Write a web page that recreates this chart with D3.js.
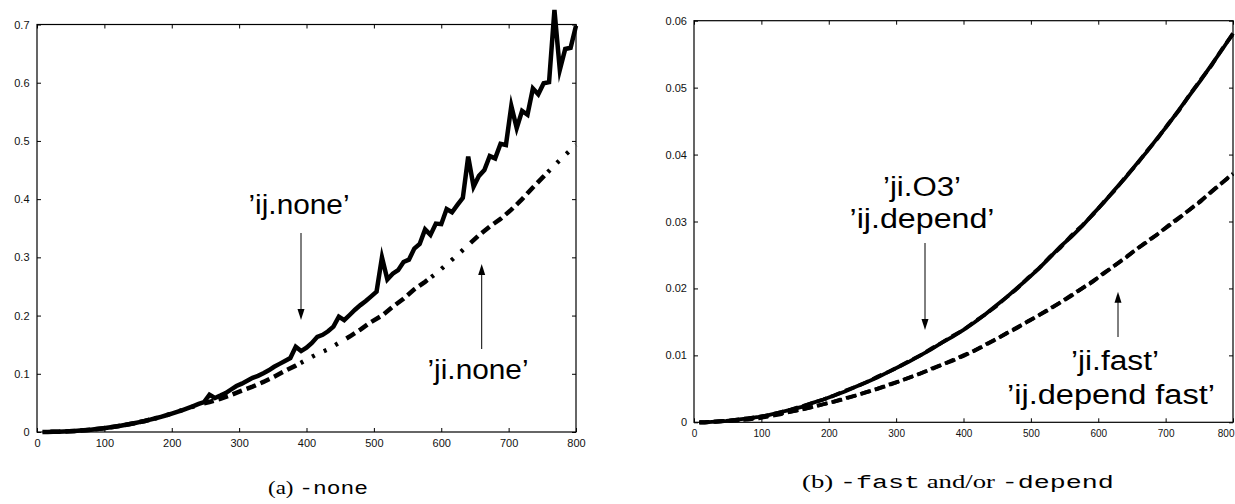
<!DOCTYPE html>
<html>
<head>
<meta charset="utf-8">
<script src="https://cdn.jsdelivr.net/npm/d3@7"></script>
<style>
body { margin: 0; background: #fff; }
svg { display: block; }
</style>
</head>
<body>
<div id="chart"></div>
<script>

// matrix sizes (x) for the fine and coarse series
const sizesFine = [8,16,24,32,40,48,56,64,72,80,88,96,104,112,120,128,136,144,152,160,
  168,176,184,192,200,208,216,224,232,240,248,256,264,272,280,288,296,304,312,320,
  328,336,344,352,360,368,376,384,392,400,408,416,424,432,440,448,456,464,472,480,
  488,496,504,512,520,528,536,544,552,560,568,576,584,592,600,608,616,624,632,640,
  648,656,664,672,680,688,696,704,712,720,728,736,744,752,760,768,776,784,792,800]
const sizesCoarse = [8,16,32,48,64,80,96,112,128,144,160,176,192,208,224,240,256,272,288,304,
  320,336,352,368,384,400,416,432,448,464,480,496,512,528,544,560,576,592,608,624,
  640,656,672,688,704,720,736,752,768,784,800]

// (a) -none
const ijNone = [0.0001,0.0002,0.0004,0.0006,0.0009,0.0013,0.0018,0.0024,0.0031,0.0040,
  0.0050,0.0061,0.0073,0.0086,0.0100,0.0115,0.0132,0.0150,0.0169,0.0190,
  0.0212,0.0236,0.0261,0.0288,0.0316,0.0346,0.0377,0.0410,0.0445,0.0482,
  0.0515,0.0640,0.0585,0.0625,0.0668,0.0730,0.0790,0.0830,0.0880,0.0930,
  0.0965,0.1010,0.1060,0.1120,0.1170,0.1220,0.1270,0.1465,0.1390,0.1450,
  0.1530,0.1635,0.1670,0.1730,0.1810,0.1980,0.1920,0.2010,0.2100,0.2180,
  0.2250,0.2330,0.2410,0.3000,0.2620,0.2720,0.2780,0.2920,0.2960,0.3150,
  0.3230,0.3480,0.3385,0.3580,0.3570,0.3830,0.3775,0.3900,0.4020,0.4730,
  0.4215,0.4400,0.4500,0.4740,0.4700,0.4950,0.4930,0.5600,0.5220,0.5515,
  0.5450,0.5900,0.5800,0.5990,0.6010,0.7250,0.6220,0.6580,0.6600,0.6980]
const jiNone = [0.0001,0.0002,0.0006,0.0013,0.0024,0.0040,0.0061,0.0086,0.0115,0.0150,
  0.0190,0.0236,0.0288,0.0346,0.0408,0.0468,0.0515,0.0570,0.0635,0.0710,
  0.0780,0.0860,0.0950,0.1050,0.1140,0.1240,0.1340,0.1420,0.1530,0.1640,
  0.1760,0.1890,0.2000,0.2150,0.2290,0.2450,0.2580,0.2720,0.2880,0.3040,
  0.3210,0.3380,0.3530,0.3660,0.3820,0.4000,0.4200,0.4390,0.4580,0.4760,0.4930]

// (b) -fast and/or -depend
const jiO3 = [0.0000,0.0000,0.0001,0.0002,0.0004,0.0006,0.0008,0.0011,0.0015,0.0019,
  0.0023,0.0029,0.0034,0.0040,0.0046,0.0053,0.0060,0.0067,0.0075,0.0083,
  0.0091,0.0100,0.0109,0.0119,0.0128,0.0138,0.0149,0.0161,0.0174,0.0187,
  0.0201,0.0215,0.0230,0.0246,0.0263,0.0277,0.0293,0.0311,0.0328,0.0347,
  0.0365,0.0385,0.0404,0.0425,0.0445,0.0467,0.0489,0.0511,0.0534,0.0557,0.0581]
const ijDepend = [0.0000,0.0000,0.0001,0.0002,0.0004,0.0006,0.0008,0.0011,0.0015,0.0019,
  0.0024,0.0029,0.0034,0.0040,0.0047,0.0053,0.0060,0.0068,0.0075,0.0083,
  0.0092,0.0100,0.0110,0.0119,0.0129,0.0138,0.0150,0.0161,0.0173,0.0187,
  0.0200,0.0216,0.0230,0.0247,0.0261,0.0279,0.0294,0.0310,0.0329,0.0346,
  0.0366,0.0384,0.0405,0.0424,0.0446,0.0466,0.0490,0.0512,0.0533,0.0558,0.0580]
const jiFast = [0.0000,0.0000,0.0001,0.0002,0.0003,0.0005,0.0007,0.0010,0.0013,0.0016,
  0.0019,0.0023,0.0027,0.0031,0.0035,0.0040,0.0045,0.0050,0.0055,0.0061,
  0.0067,0.0073,0.0079,0.0086,0.0092,0.0099,0.0107,0.0115,0.0124,0.0133,
  0.0142,0.0151,0.0160,0.0169,0.0179,0.0189,0.0200,0.0211,0.0222,0.0234,
  0.0246,0.0258,0.0269,0.0281,0.0293,0.0305,0.0318,0.0331,0.0344,0.0358,0.0372]
const ijDependFast = [0.0000,0.0000,0.0001,0.0002,0.0003,0.0004,0.0006,0.0009,0.0012,0.0016,
  0.0019,0.0023,0.0027,0.0031,0.0036,0.0040,0.0045,0.0050,0.0056,0.0061,
  0.0067,0.0073,0.0080,0.0086,0.0093,0.0100,0.0107,0.0116,0.0124,0.0133,
  0.0141,0.0151,0.0160,0.0170,0.0179,0.0190,0.0200,0.0210,0.0223,0.0234,
  0.0245,0.0258,0.0270,0.0281,0.0294,0.0306,0.0318,0.0330,0.0345,0.0358,0.0371]

const xTickValues = [0,100,200,300,400,500,600,700,800]
const yTickValuesA = [0,0.1,0.2,0.3,0.4,0.5,0.6,0.7]
const yTickValuesB = [0,0.01,0.02,0.03,0.04,0.05,0.06]

const config = {
  width: 1235,
  height: 504,
  a: {left: 37, right: 576, top: 24.5, bottom: 432},
  b: {left: 694, right: 1233, top: 20.7, bottom: 422.3},
}

const sans = '"Liberation Sans", Arial, Helvetica, sans-serif'

const svg = d3.select('#chart').append('svg').attr('width', config.width).attr('height', config.height)

const xA = d3.scaleLinear().domain([0, 800]).range([config.a.left, config.a.right])
const yA = d3.scaleLinear().domain([0, .7]).range([config.a.bottom, config.a.top])
const xB = d3.scaleLinear().domain([0, 800]).range([config.b.left, config.b.right])
const yB = d3.scaleLinear().domain([0, .06]).range([config.b.bottom, config.b.top])

// frame + inward ticks on all four sides
function drawFrame(p, x, y, yTicks, yFmt, xFont, yFont, xPad, yPad) {
  const g = svg.append('g')

  const bottom = g.append('g').attr('transform', `translate(0,${p.bottom})`)
    .call(d3.axisBottom(x).tickValues(xTickValues).tickSize(-4).tickPadding(xPad).tickFormat(d3.format('d')))
    .call(s => s.selectAll('text').style('font-size', xFont))

  g.append('g').attr('transform', `translate(0,${p.top})`)
    .call(d3.axisTop(x).tickValues(xTickValues).tickSize(-4).tickFormat(''))

  g.append('g').attr('transform', `translate(${p.left},0)`)
    .call(d3.axisLeft(y).tickValues(yTicks).tickSize(-4).tickPadding(yPad).tickFormat(yFmt))
    .call(s => s.selectAll('text').style('font-size', yFont))

  g.append('g').attr('transform', `translate(${p.right},0)`)
    .call(d3.axisRight(y).tickValues(yTicks).tickSize(-4).tickFormat(''))

  g.selectAll('.domain').remove()
  g.selectAll('.tick line').attr('stroke', '#000').attr('stroke-width', 1)
  g.selectAll('.tick text').attr('fill', '#111').style('font-family', sans)

  g.append('rect')
    .attr('x', p.left).attr('y', p.top)
    .attr('width', p.right - p.left).attr('height', p.bottom - p.top)
    .attr('fill', 'none').attr('stroke', '#000').attr('stroke-width', 1.2)

  return bottom
}

drawFrame(config.a, xA, yA, yTickValuesA, d => d === 0 ? '0' : d3.format('.1f')(d), '11px', '11px', 7, 7.5)
const bottomB = drawFrame(config.b, xB, yB, yTickValuesB, d => d === 0 ? '0' : d3.format('.2f')(d), '10px', '11px', 8, 7)

// last label of (b) sits on the page edge, keep it inside
bottomB.selectAll('.tick text').filter(d => d === 800)
  .attr('text-anchor', 'end').attr('x', config.width - 1 - config.b.right)

const lineA = d3.line().x(d => xA(d[0])).y(d => yA(d[1]))
const lineB = d3.line().x(d => xB(d[0])).y(d => yB(d[1]))

// (a) series
svg.append('path')
  .datum(d3.zip(sizesCoarse, jiNone))
  .attr('d', lineA)
  .attr('fill', 'none').attr('stroke', '#000').attr('stroke-width', 4.5)
  .attr('stroke-dasharray', '10 5 10 5 10 5 10 5 10 5 10 5 10 5 3 10 3 10 3 10 3 10')
  .attr('stroke-dashoffset', 149)

svg.append('path')
  .datum(d3.zip(sizesFine, ijNone))
  .attr('d', lineA)
  .attr('fill', 'none').attr('stroke', '#000').attr('stroke-width', 4.5)
  .attr('stroke-linejoin', 'miter').attr('stroke-miterlimit', 6)

// (b) series
svg.append('path')
  .datum(d3.zip(sizesCoarse, jiO3))
  .attr('d', lineB)
  .attr('fill', 'none').attr('stroke', '#000').attr('stroke-width', 3.8)

svg.append('path')
  .datum(d3.zip(sizesCoarse, ijDepend))
  .attr('d', lineB)
  .attr('fill', 'none').attr('stroke', '#000').attr('stroke-width', 3.8)
  .attr('stroke-dasharray', '10 5')

svg.append('path')
  .datum(d3.zip(sizesCoarse, jiFast))
  .attr('d', lineB)
  .attr('fill', 'none').attr('stroke', '#000').attr('stroke-width', 3.8)
  .attr('stroke-dasharray', '10 5')

svg.append('path')
  .datum(d3.zip(sizesCoarse, ijDependFast))
  .attr('d', lineB)
  .attr('fill', 'none').attr('stroke', '#000').attr('stroke-width', 3.8)
  .attr('stroke-dasharray', '10 5').attr('stroke-dashoffset', 1)

// labels with arrows
function label(txt, x, y, len) {
  svg.append('text')
    .attr('x', x).attr('y', y)
    .attr('text-anchor', 'middle')
    .attr('textLength', len).attr('lengthAdjust', 'spacingAndGlyphs')
    .style('font-family', sans).style('font-size', '27px')
    .attr('fill', '#000')
    .text(txt)
}

function arrow(x, y1, y2) {
  const dir = y2 > y1 ? 1 : -1
  svg.append('line')
    .attr('x1', x).attr('x2', x).attr('y1', y1).attr('y2', y2 - dir * 10)
    .attr('stroke', '#000').attr('stroke-width', 1)
  svg.append('path')
    .attr('d', `M${x},${y2} L${x - 3.5},${y2 - dir * 11} L${x + 3.5},${y2 - dir * 11} Z`)
    .attr('fill', '#000')
}

label('\u2019ij.none\u2019', 299, 214, 101)
arrow(301, 233, 320)
label('\u2019ji.none\u2019', 478, 379, 101)
arrow(481.7, 349, 264)

label('\u2019ji.O3\u2019', 922, 196, 78)
label('\u2019ij.depend\u2019', 922, 228, 145)
arrow(925, 243, 330)

label('\u2019ji.fast\u2019', 1115, 370, 88)
label('\u2019ij.depend fast\u2019', 1111, 404, 208)
arrow(1118, 337, 291.7)

// captions: roman + typewriter pieces
function caption(parts, cx, y, target) {
  const t = svg.append('text').attr('x', cx).attr('y', y).attr('text-anchor', 'middle').attr('fill', '#000')
  parts.forEach(p => {
    t.append('tspan')
      .style('font-family', p.mono ? '"Liberation Mono", "DejaVu Sans Mono", monospace' : '"Liberation Serif", "DejaVu Serif", serif')
      .style('font-size', '19px')
      .text(p.t)
  })
  const w = t.node().getBBox().width
  t.attr('transform', `translate(${cx},0) scale(${target / w},1) translate(${-cx},0)`)
}

caption([{t: '(a) '}, {t: '-none', mono: true}], 318, 494, 100)
caption([{t: '(b) '}, {t: '-fast', mono: true}, {t: ' and/or '}, {t: '-depend', mono: true}], 958, 488, 312)

</script>
</body>
</html>
